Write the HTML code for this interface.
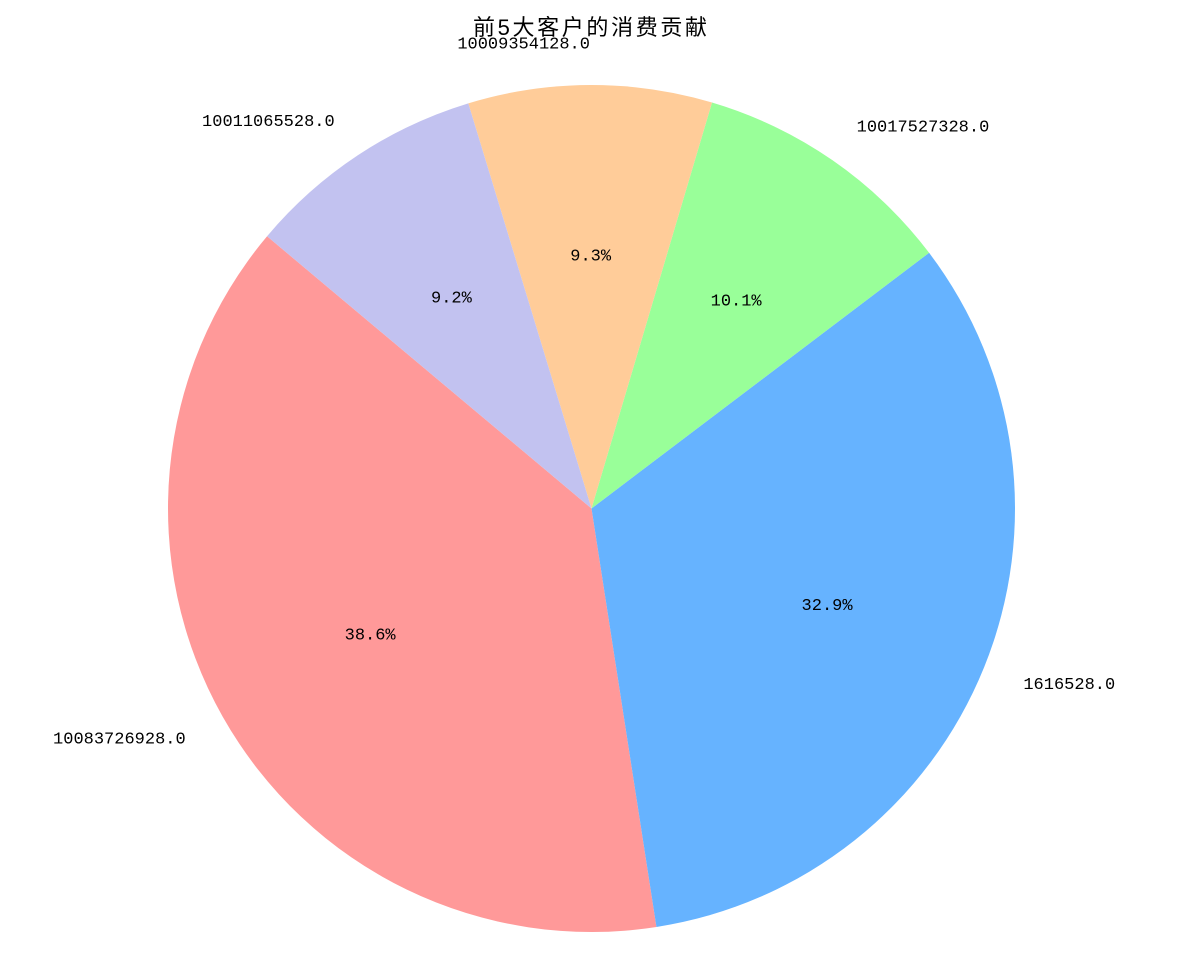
<!DOCTYPE html>
<html><head><meta charset="utf-8"><style>
html,body{margin:0;padding:0;background:#fff;}
svg{display:block;}
text{font-family:"Liberation Mono","Noto Sans CJK SC",monospace;}
</style></head><body>
<svg id="chart" width="1189" height="954" viewBox="0 0 1189 954" xmlns="http://www.w3.org/2000/svg">
<text x="590" y="35" text-anchor="middle" font-size="22" textLength="234" style='font-family:"Liberation Sans","Noto Sans CJK SC",sans-serif' fill="#000">前5大客户的消费贡献</text>
<g id="slices"></g>
<g id="labels"></g>
</svg>
<script>
const categories = ["10083726928.0","1616528.0","10017527328.0","10009354128.0","10011065528.0"];
const values = [38.6, 32.9, 10.1, 9.3, 9.2];
const colors = ["#ff9999","#66b3ff","#99ff99","#ffcc99","#c2c2f0"];
const startAngle = 140;
const cx = 591.5, cy = 508.5, r = 423.5;
const NS = "http://www.w3.org/2000/svg";
const total = values.reduce((a,b)=>a+b,0);
const gS = document.getElementById('slices'), gL = document.getElementById('labels');
function pt(deg, rr){const a=deg*Math.PI/180;return [cx+rr*Math.cos(a), cy-rr*Math.sin(a)];}
let ang = startAngle;
values.forEach((v,i)=>{
  const sweep = v/total*360;
  const a0=ang, a1=ang+sweep;
  const p0=pt(a0,r), p1=pt(a1,r);
  const large = sweep>180?1:0;
  const path=document.createElementNS(NS,'path');
  path.setAttribute('d',`M${cx},${cy} L${p0[0]},${p0[1]} A${r},${r} 0 ${large} 0 ${p1[0]},${p1[1]} Z`);
  path.setAttribute('fill',colors[i]);
  
  
  gS.appendChild(path);
  const mid=(a0+a1)/2;
  const lp=pt(mid,r*1.1);
  const t=document.createElementNS(NS,'text');
  t.setAttribute('x',lp[0]);t.setAttribute('y',lp[1]+6);
  t.setAttribute('font-size','17');
  t.setAttribute('text-anchor',lp[0]>=cx?'start':'end');
  t.textContent=categories[i];
  
  
  gL.appendChild(t);
  const pp=pt(mid,r*0.6);
  const t2=document.createElementNS(NS,'text');
  t2.setAttribute('x',pp[0]);t2.setAttribute('y',pp[1]+6);
  t2.setAttribute('font-size','17');
  t2.setAttribute('text-anchor','middle');
  t2.textContent=(v/total*100).toFixed(1)+'%';
  
  
  gL.appendChild(t2);
  ang=a1;
});
</script>
</body></html>
